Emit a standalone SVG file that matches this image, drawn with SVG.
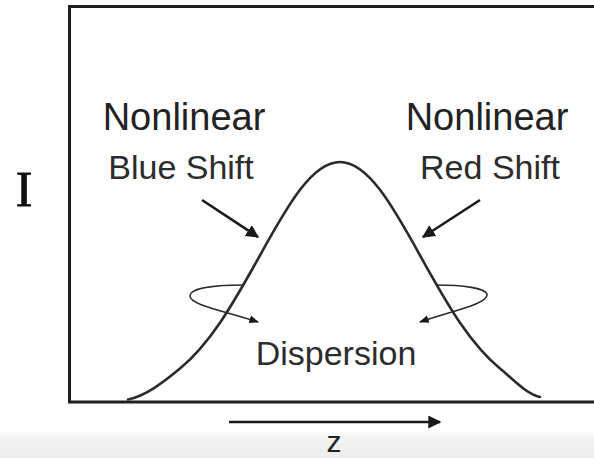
<svg xmlns="http://www.w3.org/2000/svg" width="594" height="458" viewBox="0 0 594 458">
  <defs>
    <linearGradient id="bottomShade" x1="0" y1="0" x2="0" y2="1">
      <stop offset="0" stop-color="#ffffff"/>
      <stop offset="0.35" stop-color="#f2f2f2"/>
      <stop offset="1" stop-color="#ededed"/>
    </linearGradient>
    <marker id="headBig" viewBox="0 0 10 10" refX="9" refY="5" markerWidth="5" markerHeight="5" orient="auto" markerUnits="strokeWidth">
      <path d="M0,0 L10,5 L0,10 Z" fill="#1a1a1a"/>
    </marker>
    <marker id="headSmall" viewBox="0 0 10 10" refX="9" refY="5" markerWidth="6" markerHeight="6" orient="auto" markerUnits="strokeWidth">
      <path d="M0,1 L10,5 L0,9 Z" fill="#1a1a1a"/>
    </marker>
  </defs>
  <style>
    .frame { fill: none; stroke: #1e1e1e; stroke-width: 3; }
    .curve { fill: none; stroke: #2a2a2a; stroke-width: 2.6; stroke-linecap: round; }
    .arrow { fill: none; stroke: #1a1a1a; stroke-width: 2.6; }
    .curl { fill: none; stroke: #2a2a2a; stroke-width: 1.6; }
    .label { font-family: "Liberation Sans", Arial, Helvetica, sans-serif; fill: #222; text-anchor: middle; }
    .big { font-size: 38px; }
    .mid { font-size: 34px; fill: #2c2c2c; }
    .axis { font-family: "Liberation Serif", "Times New Roman", serif; font-size: 50px; fill: #111; text-anchor: middle; stroke: #111; stroke-width: 0.8; }
  </style>

  <rect x="0" y="0" width="594" height="458" fill="#ffffff"/>
  <rect x="0" y="430" width="594" height="28" fill="url(#bottomShade)"/>

  <g id="frame">
    <path class="frame" d="M594,6.5 L69.5,6.5 L69.5,402 L594,402"/>
  </g>

  <g id="pulse">
    <path class="curve" d="M128,399.5 C145.33,396.03 162.67,382.79 180,368.5 C193.33,357.5 206.67,342.21 220,322.7 C233.33,303.19 246.67,279.37 260,255.3 C273.33,231.23 286.67,207.21 300,189.8 C313.33,172.39 326.67,162 340,162 C353.33,162 366.67,172.39 380,189.8 C393.33,207.21 406.67,231.23 420,255.3 C433.33,279.37 446.67,303.19 460,322.7 C473.33,342.21 486.67,357.5 500,368.5 C513.33,379.5 526.67,394.3 540,397"/>
  </g>

  <g id="axis-I">
    <text class="axis" x="24" y="206">I</text>
  </g>

  <g id="blue-shift">
    <text class="label big" x="184" y="130">Nonlinear</text>
    <text class="label mid" x="181" y="179">Blue Shift</text>
  </g>

  <g id="red-shift">
    <text class="label big" x="487" y="130">Nonlinear</text>
    <text class="label mid" x="490" y="179">Red Shift</text>
  </g>

  <g id="dispersion">
    <text class="label mid" x="336" y="365">Dispersion</text>
  </g>

  <g id="axis-z">
    <text class="label" x="334" y="452" style="font-size:30px">z</text>
  </g>

  <g id="connectors">
    <path class="arrow" d="M202,200 L258,237" marker-end="url(#headBig)"/>
    <path class="arrow" d="M480,200 L423,237" marker-end="url(#headBig)"/>
    <path class="curl" d="M243,285 C215,285 190,288 190,296 C190,305 225,311 258,322" marker-end="url(#headSmall)"/>
    <path class="curl" d="M436,285 C462,285 487,288 487,295 C487,304 452,311 420,322" marker-end="url(#headSmall)"/>
    <path class="arrow" d="M229,422 L440,422" marker-end="url(#headBig)"/>
  </g>
</svg>
